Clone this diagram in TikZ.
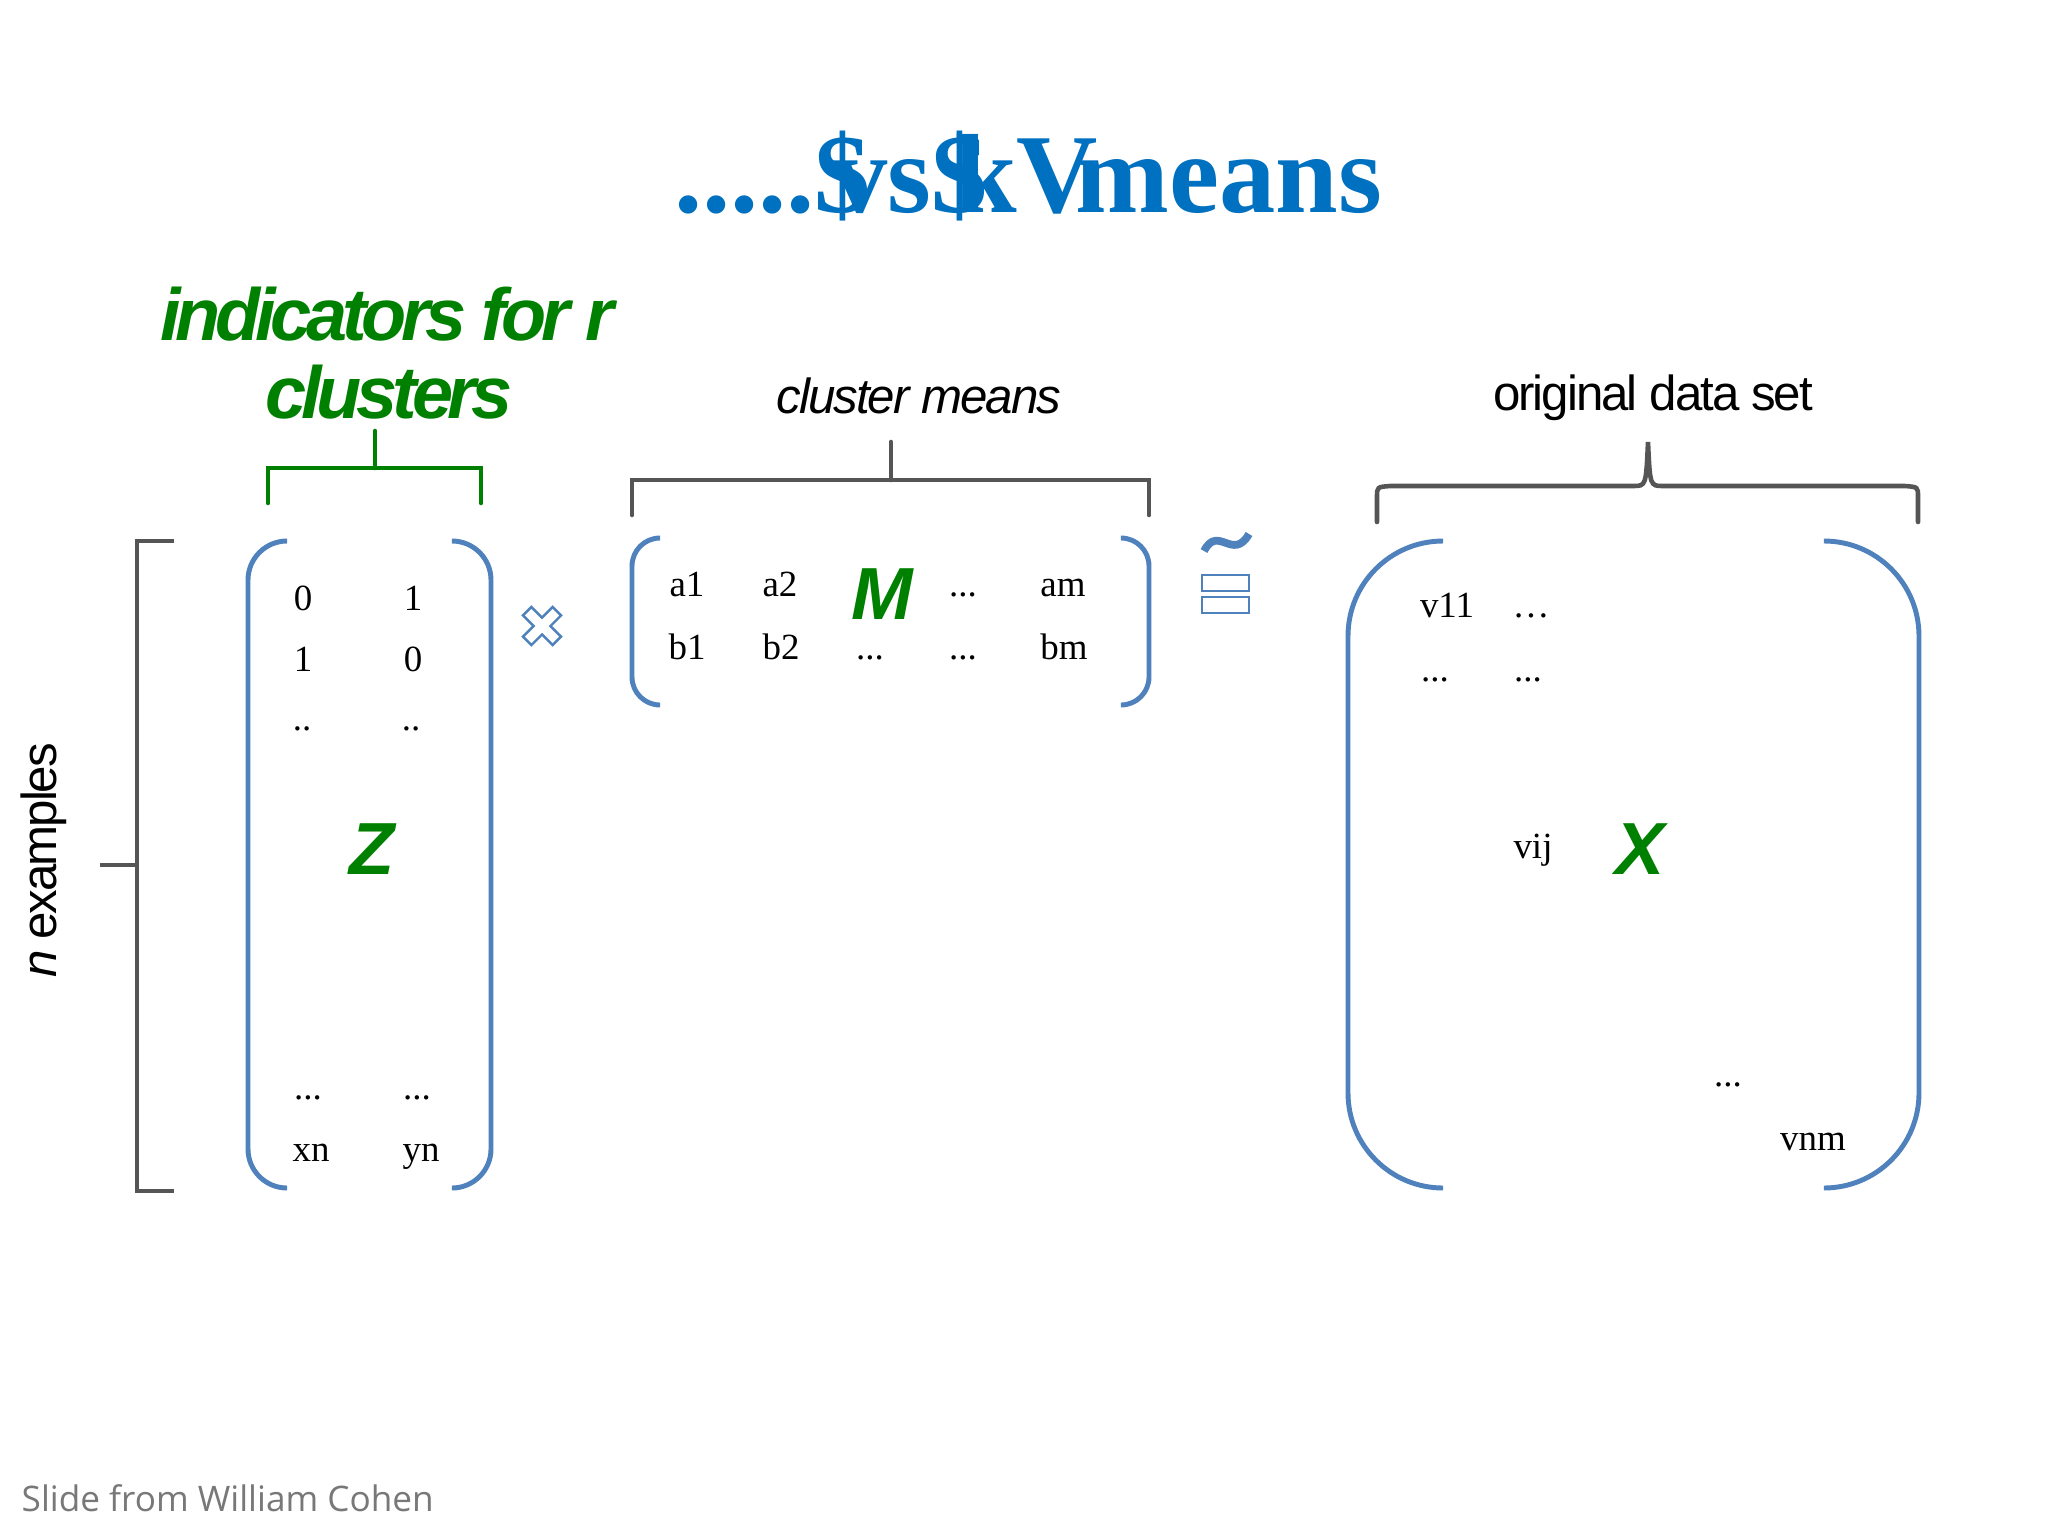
\documentclass[tikz,border=0pt]{standalone}
\usepackage{fontspec}
\setmainfont{Liberation Serif}
\setsansfont{Liberation Sans}
\newfontfamily\grnfont[LetterSpace=-7]{Liberation Sans}
\newfontfamily\capfont[LetterSpace=-4]{Liberation Sans}
\newfontfamily\srcfont{Open Sans}
\usepackage{tikz}
\definecolor{ttlblue}{RGB}{0,112,192}
\definecolor{parblue}{RGB}{79,129,189}
\definecolor{dgreen}{RGB}{0,128,0}
\definecolor{brkgray}{RGB}{85,85,85}
\definecolor{srcgray}{RGB}{120,120,120}

\begin{document}
\begin{tikzpicture}[x=0.01cm,y=-0.01cm,
  ent/.style={anchor=base,inner sep=0pt,yshift=-1.1pt,font=\fontsize{10.5}{12}\selectfont},
  bigl/.style={inner sep=0pt,text=dgreen,font=\fontsize{21}{24}\selectfont\sffamily\bfseries\itshape},
  grn/.style={anchor=base,inner sep=0pt,text=dgreen,font=\grnfont\fontsize{21}{24}\selectfont\bfseries\itshape},
  captxt/.style={anchor=base,inner sep=0pt,font=\capfont\fontsize{14}{16}\selectfont},
  paren/.style={draw=parblue,line width=1.4pt},
  brk/.style={draw=brkgray,line width=1.3pt,line cap=round}]
\useasboundingbox (0,0) rectangle (2048,1536);
\fill[white] (0,0) rectangle (2048,1536);

\node[anchor=base,inner sep=0pt,text=ttlblue,font=\fontsize{32}{36}\selectfont\bfseries] (ttl) at (1028,212)
  {.....\rlap{\$}\kern.15em vs\rlap{\$}\kern.2em kV\kern-.2em means};

\node[grn] (ind) at (387,340) {indicators for r};
\node[grn] (clu) at (389,418) {clusters};
\draw[brk,draw=dgreen] (268,503) -- (268,468) -- (481,468) -- (481,503) (375,468) -- (375,431);

\node[captxt,font=\capfont\fontsize{14}{16}\selectfont\itshape] (cmeans) at (919,413) {cluster means};
\draw[brk] (632,515) -- (632,480) -- (1149,480) -- (1149,515) (891,480) -- (891,442);

\node[captxt] (orig) at (1653,410) {original data set};
\draw[brk] (1377,522) -- (1377,497) .. controls (1377,487) .. (1390,486) -- (1633,486)
  .. controls (1646,486) .. (1648,442) .. controls (1650,486) .. (1663,486) -- (1905,486)
  .. controls (1918,487) .. (1918,497) -- (1918,522);

\draw[brk,line cap=butt] (174,541) -- (137,541) -- (137,1191) -- (174,1191) (137,865) -- (100,865);
\node[inner sep=0pt,rotate=90,font=\capfont\fontsize{14}{16}\selectfont] (nex) at (44,860) {\textit{n} examples};

% Z
\draw[paren,rounded corners=0.39cm] (287,541) -| (248,1188) -- (287,1188);
\draw[paren,rounded corners=0.39cm] (452,541) -| (491,1188) -- (452,1188);
\node[ent] (z11) at (303,607) {0};
\node[ent] (z12) at (413,607) {1};
\node[ent] (z21) at (303,668) {1};
\node[ent] (z22) at (413,668) {0};
\node[ent] (z31) at (302,727) {..};
\node[ent] (z32) at (411,727) {..};
\node[bigl] (zz) at (372,849) {Z};
\node[ent] (z41) at (308,1096) {...};
\node[ent] (z42) at (417,1096) {...};
\node[ent] (z51) at (311,1158) {xn};
\node[ent] (z52) at (421,1158) {yn};

\begin{scope}[shift={(542,626)},rotate=45]
  \draw[draw=parblue,fill=white,line width=0.7pt] (-6,-21) -- (6,-21) -- (6,-6) -- (21,-6) -- (21,6) -- (6,6)
    -- (6,21) -- (-6,21) -- (-6,6) -- (-21,6) -- (-21,-6) -- (-6,-6) -- cycle;
\end{scope}

% M
\draw[paren,rounded corners=0.28cm] (660,538) -| (632,705) -- (660,705);
\draw[paren,rounded corners=0.28cm] (1121,538) -| (1149,705) -- (1121,705);
\node[ent] (a1) at (687,593) {a1};
\node[ent] (a2) at (780,593) {a2};
\node[bigl] (mm) at (882,594) {M};
\node[ent] (a4) at (963,593) {...};
\node[ent] (am) at (1063,593) {am};
\node[ent] (b1) at (687,656) {b1};
\node[ent] (b2) at (781,656) {b2};
\node[ent] (b3) at (870,656) {...};
\node[ent] (b4) at (963,656) {...};
\node[ent] (bm) at (1064,656) {bm};

\draw[parblue,line width=2.2pt] (1204,551) .. controls (1218,524) and (1233,562) .. (1249,534);
\draw[draw=parblue,fill=white,line width=0.8pt] (1202,575) rectangle (1249,591) (1202,597) rectangle (1249,613);

% X
\draw[paren,rounded corners=0.95cm] (1443,541) -| (1348,1188) -- (1443,1188);
\draw[paren,rounded corners=0.95cm] (1825,541) -| (1919,1188) -- (1825,1188);
\node[ent] (v11) at (1447,614) {v11};
\node[ent] (v12) at (1531,614) {\ldots};
\node[ent] (v21) at (1435,678) {...};
\node[ent] (v22) at (1528,678) {...};
\node[ent] (vij) at (1533,855) {vij};
\node[bigl] (xx) at (1640,849) {X};
\node[ent] (vdd) at (1728,1083) {...};
\node[ent] (vnm) at (1813,1147) {vnm};

\node[anchor=base west,inner sep=0pt,text=srcgray,font=\srcfont\fontsize{10}{12}\selectfont] (src) at (21,1511)
  {Slide from William Cohen};
\end{tikzpicture}
\end{document}
